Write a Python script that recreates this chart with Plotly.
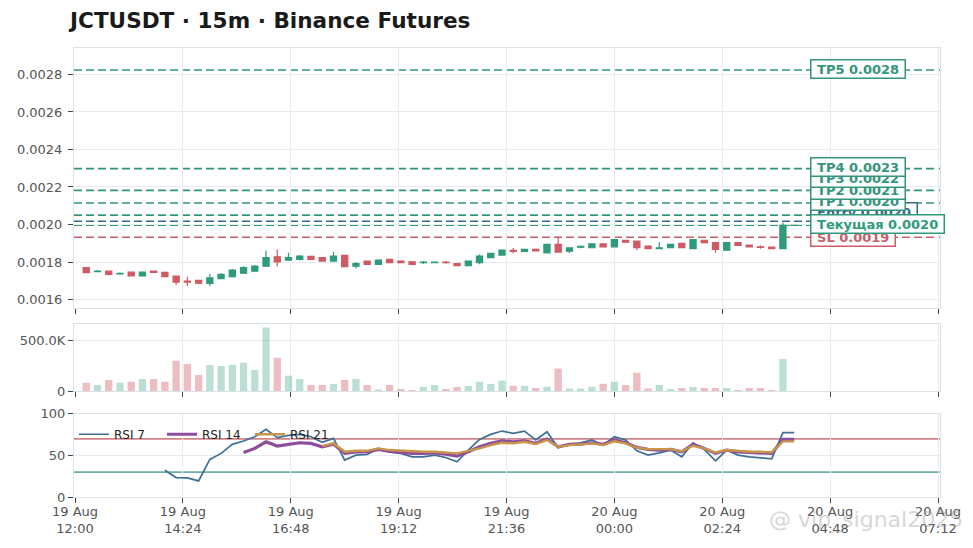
import pandas as pd
import plotly.graph_objects as go
from plotly.subplots import make_subplots

# ---------------- data ----------------
times = pd.date_range("2025-08-19 12:15", periods=64, freq="15min")

opens = [0.001770, 0.001749, 0.001751, 0.001736, 0.001746, 0.001726, 0.001751, 0.001745,
         0.001725, 0.001698, 0.001702, 0.001686, 0.001711, 0.001722, 0.001740, 0.001751,
         0.001778, 0.001828, 0.001810, 0.001814, 0.001830, 0.001823, 0.001805, 0.001835,
         0.001778, 0.001805, 0.001787, 0.001814, 0.001805, 0.001801, 0.001796, 0.001796,
         0.001800, 0.001792, 0.001781, 0.001796, 0.001823, 0.001837, 0.001862, 0.001856,
         0.001867, 0.001849, 0.001894, 0.001858, 0.001879, 0.001876, 0.001897, 0.001881,
         0.001916, 0.001911, 0.001885, 0.001871, 0.001876, 0.001899, 0.001871, 0.001916,
         0.001903, 0.001863, 0.001903, 0.001890, 0.001881, 0.001879, 0.001871, 0.001995]
highs = [0.001773, 0.001757, 0.001753, 0.001744, 0.001750, 0.001749, 0.001754, 0.001747,
         0.001727, 0.001722, 0.001706, 0.001736, 0.001740, 0.001763, 0.001778, 0.001784,
         0.001862, 0.001867, 0.001850, 0.001838, 0.001834, 0.001826, 0.001853, 0.001837,
         0.001800, 0.001808, 0.001812, 0.001817, 0.001809, 0.001803, 0.001805, 0.001802,
         0.001806, 0.001794, 0.001807, 0.001840, 0.001848, 0.001866, 0.001875, 0.001869,
         0.001869, 0.001896, 0.001935, 0.001878, 0.001888, 0.001899, 0.001899, 0.001922,
         0.001918, 0.001913, 0.001887, 0.001905, 0.001896, 0.001901, 0.001922, 0.001918,
         0.001905, 0.001905, 0.001905, 0.001892, 0.001888, 0.001881, 0.002009, 0.001997]
lows = [0.001741, 0.001745, 0.001729, 0.001732, 0.001723, 0.001724, 0.001742, 0.001720,
        0.001678, 0.001672, 0.001682, 0.001672, 0.001708, 0.001718, 0.001736, 0.001748,
        0.001776, 0.001778, 0.001808, 0.001808, 0.001811, 0.001802, 0.001803, 0.001773,
        0.001765, 0.001784, 0.001785, 0.001793, 0.001793, 0.001785, 0.001790, 0.001794,
        0.001791, 0.001779, 0.001779, 0.001788, 0.001820, 0.001835, 0.001845, 0.001853,
        0.001856, 0.001847, 0.001851, 0.001848, 0.001874, 0.001874, 0.001879, 0.001879,
        0.001904, 0.001863, 0.001869, 0.001869, 0.001874, 0.001874, 0.001869, 0.001901,
        0.001850, 0.001861, 0.001886, 0.001879, 0.001871, 0.001869, 0.001869, 0.001994]
closes = [0.001743, 0.001752, 0.001734, 0.001740, 0.001726, 0.001746, 0.001745, 0.001722,
          0.001693, 0.001693, 0.001687, 0.001716, 0.001734, 0.001757, 0.001770, 0.001778,
          0.001823, 0.001800, 0.001823, 0.001831, 0.001814, 0.001805, 0.001831, 0.001775,
          0.001792, 0.001787, 0.001810, 0.001796, 0.001796, 0.001787, 0.001799, 0.001800,
          0.001796, 0.001781, 0.001805, 0.001831, 0.001846, 0.001863, 0.001856, 0.001867,
          0.001859, 0.001894, 0.001853, 0.001876, 0.001883, 0.001897, 0.001881, 0.001920,
          0.001906, 0.001876, 0.001871, 0.001876, 0.001894, 0.001876, 0.001920, 0.001903,
          0.001867, 0.001903, 0.001888, 0.001881, 0.001878, 0.001871, 0.001995, 0.001996]
volumes = [82000, 59000, 108000, 82000, 91000, 118000, 118000, 91000,
           297000, 265000, 157000, 255000, 245000, 255000, 278000, 206000,
           624000, 327000, 150000, 118000, 59000, 59000, 69000, 108000,
           118000, 59000, 16000, 59000, 20000, 10000, 39000, 59000,
           20000, 40000, 49000, 91000, 69000, 101000, 52000, 52000,
           29000, 42000, 222000, 26000, 26000, 42000, 72000, 91000,
           59000, 180000, 26000, 59000, 20000, 29000, 39000, 29000,
           29000, 29000, 10000, 29000, 29000, 10000, 314000, 0]

N = None
rsi7 = [N, N, N, N, N, N, N, 32.3, 23.4, 23.0, 19.4, 45.2, 52.5, 63.4, 67.4, 72.6,
        81.5, 71.4, 74.2, 75.4, 72.6, 65.8, 70.6, 44.4, 50.4, 51.2, 58.5, 54.4, 52.5, 48.4,
        48.4, 50.4, 47.6, 42.3, 56.5, 69.4, 75.4, 79.4, 76.6, 79.4, 68.6, 78.6, 59.3, 63.7,
        65.3, 68.6, 62.5, 72.6, 68.6, 55.6, 50.4, 53.2, 56.5, 48.4, 65.3, 57.3, 43.5, 56.5,
        50.4, 48.4, 47.6, 46.0, 77.4, 77.4]
rsi14 = [N] * 14 + [53.7, 58.5, 66.5, 61.3, 63.4, 65.3, 64.6, 60.5, 63.7, 52.5, 54.4, 54.4,
                    57.3, 55.0, 53.7, 52.5, 52.5, 53.2, 51.6, 49.2, 54.4, 60.5, 64.6, 67.7,
                    66.5, 67.7, 64.6, 69.8, 60.5, 63.4, 63.7, 65.3, 63.4, 68.6, 65.3, 59.7,
                    57.3, 56.5, 57.3, 54.4, 63.4, 58.5, 52.5, 56.5, 54.4, 53.7, 53.2, 52.5,
                    69.4, 69.4]
rsi21 = [N] * 21 + [61.3, 64.6, 54.4, 55.6, 55.6, 58.5, 56.5, 55.6, 54.4, 54.4, 54.4, 53.7,
                    52.5, 55.6, 58.5, 62.5, 65.3, 64.6, 66.5, 63.7, 68.6, 60.5, 62.5, 63.4,
                    64.6, 62.5, 67.0, 64.6, 59.3, 57.7, 57.3, 57.7, 55.0, 61.7, 58.5, 53.7,
                    56.5, 55.0, 54.4, 54.4, 53.7, 67.0, 67.0]
rsi_names = ["RSI 7", "RSI 14", "RSI 21"]
rsi_levels = [70, 50, 30]

level_names = ["SL", "Entry", "TP1", "TP2", "TP3", "TP4", "TP5", "Текущая"]
level_prices = [0.001932, 0.002017, 0.002050, 0.002115, 0.002182, 0.002298, 0.002824, 0.001996]
level_texts = ["SL 0.0019", "Entry 0.0020", "TP1 0.0020", "TP2 0.0021", "TP3 0.0022",
               "TP4 0.0023", "TP5 0.0028", "Текущая 0.0020"]

vol_ticks = [0, 500000]
vol_tick_text = ["0", "500.0K"]

title_text = "JCTUSDT · 15m · Binance Futures"
watermark_text = "@ vip_signal2025"

# ---------------- style ----------------
GREEN = "#2e9b7b"
RED = "#d05a64"
GREEN_V = "rgba(46,155,123,0.32)"
RED_V = "rgba(208,90,100,0.40)"
TP_C = "#35957c"
ENTRY_C = "#36698a"
SL_C = "#c95e68"
CUR_C = "#2e9b7b"
level_colors = [SL_C, ENTRY_C, TP_C, TP_C, TP_C, TP_C, TP_C, CUR_C]
label_shift = [0, 9, 14, 13, 12, 2, 1, 1]
rsi_colors = ["#3f6f98", "#8b4d9c", "#c9954a"]
rsi_widths = [1.7, 3.2, 2.4]
level_line_colors = ["rgba(200,110,115,0.85)", "rgba(120,160,160,0.7)", "rgba(80,150,145,0.8)"]
level_line_widths = [1.6, 1.1, 1.8]
GRID = "#e6ecf0"
BORDER = "#dbe2e7"
TXT = "#555555"
FONT = "DejaVu Sans"

# page body has an 8px margin, figure is sized so it ends at the window edge
FIG_W, FIG_H = 965, 540

fig = make_subplots(rows=3, cols=1, shared_xaxes=True, vertical_spacing=0.02)

fig.add_trace(go.Candlestick(
    x=times, open=opens, high=highs, low=lows, close=closes,
    increasing=dict(line=dict(color=GREEN, width=1.2), fillcolor=GREEN),
    decreasing=dict(line=dict(color=RED, width=1.2), fillcolor=RED),
    whiskerwidth=0, showlegend=False, name="JCTUSDT"), row=1, col=1)

vol_colors = [GREEN_V if c >= o else RED_V for o, c in zip(opens, closes)]
fig.add_trace(go.Bar(x=times, y=volumes, marker_color=vol_colors, marker_line_width=0,
                     width=15 * 60 * 1000 * 0.65, showlegend=False, name="Volume"),
              row=2, col=1)

for vals, nm, col, w in zip([rsi7, rsi14, rsi21], rsi_names, rsi_colors, rsi_widths):
    fig.add_trace(go.Scatter(x=times, y=vals, mode="lines", name=nm,
                             line=dict(color=col, width=w)), row=3, col=1)

# level lines on price panel
for p, col in zip(level_prices, level_colors):
    fig.add_shape(type="line", xref="x domain", yref="y", x0=0, x1=1, y0=p, y1=p,
                  line=dict(color=col, width=1.6, dash="8px,4px"), layer="below")
for p, col, txt, sh in zip(level_prices, level_colors, level_texts, label_shift):
    fig.add_annotation(xref="paper", yref="y", x=0.85, y=p, yshift=sh, xanchor="left",
                       yanchor="middle", text="\u00a0" + txt + "\u00a0", showarrow=False,
                       font=dict(family=FONT, size=13, color=col, weight="bold"),
                       bgcolor="rgba(255,255,255,0.95)", bordercolor=col, borderwidth=1.5,
                       borderpad=1)

for lv, col, w in zip(rsi_levels, level_line_colors, level_line_widths):
    fig.add_shape(type="line", xref="x3 domain", yref="y3", x0=0, x1=1, y0=lv, y1=lv,
                  line=dict(color=col, width=w), layer="below")

xcommon = dict(showgrid=True, gridcolor=GRID, showline=True, linecolor=BORDER, mirror=True,
               ticks="outside", ticklen=5, tickcolor="#444", tickwidth=1,
               range=["2025-08-19 11:58:40", "2025-08-20 07:14:40"],
               tick0="2025-08-19 12:00", dtick=144 * 60 * 1000,
               tickformat="%d %b<br>%H:%M", rangeslider=dict(visible=False),
               tickfont=dict(family=FONT, size=13, color=TXT), zeroline=False,
               automargin=False, ticklabelstandoff=-3)
fig.update_xaxes(**xcommon)

ycommon = dict(showgrid=True, gridcolor=GRID, showline=True, linecolor=BORDER, mirror=True,
               ticks="outside", ticklen=5, tickcolor="#444", tickwidth=1, zeroline=False,
               tickfont=dict(family=FONT, size=13, color=TXT), automargin=False)
fig.update_yaxes(**ycommon)

fig.update_layout(
    width=FIG_W, height=FIG_H,
    margin=dict(l=66, r=33, t=40, b=51),
    paper_bgcolor="white", plot_bgcolor="white",
    font=dict(family=FONT, size=12, color=TXT),
    title=dict(text="<b>" + title_text + "</b>", xref="container", yref="container",
               x=62 / FIG_W, y=1 - 12 / FIG_H, xanchor="left", yanchor="middle",
               font=dict(family=FONT, size=21.6, color="#1a1a1a")),
    yaxis=dict(domain=[0.421, 1], range=[0.001555, 0.002941], dtick=0.0002, tickformat=".4f",
               ticklabelstandoff=3),
    yaxis2=dict(domain=[0.236, 0.385], range=[0, 657000], tickvals=vol_ticks,
                ticktext=vol_tick_text),
    yaxis3=dict(domain=[0, 0.185], range=[0, 100], tickvals=[0, 50, 100]),
    showlegend=True,
    legend=dict(orientation="h", x=0.0, y=0.172, xanchor="left", yanchor="top",
                bgcolor="rgba(0,0,0,0)", font=dict(family=FONT, size=12, color="#222"),
                entrywidth=43),
    bargap=0.35,
    boxgap=0.22,
)

fig.add_annotation(xref="paper", yref="paper", x=1.029, y=-0.051, xanchor="right",
                   yanchor="middle", text=watermark_text, showarrow=False,
                   font=dict(family=FONT, size=22, color="rgba(150,150,150,0.40)"))

fig.write_html("out.html")
